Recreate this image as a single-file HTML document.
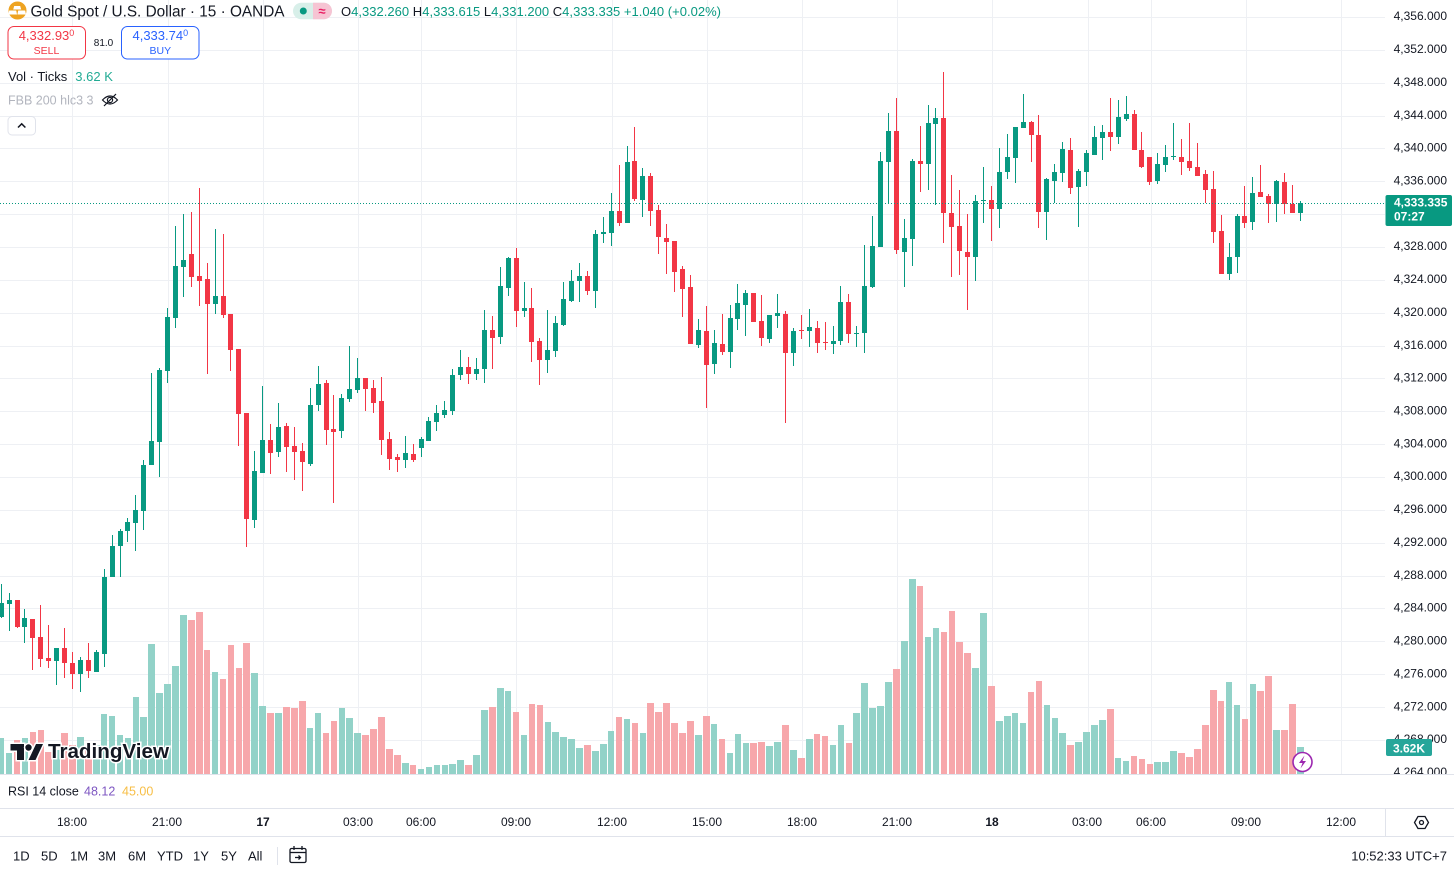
<!DOCTYPE html>
<html><head><meta charset="utf-8">
<style>
html,body{margin:0;padding:0;background:#fff;}
body{width:1454px;height:869px;overflow:hidden;position:relative;font-family:"Liberation Sans",Arial,sans-serif;}
svg{position:absolute;left:0;top:0;}
#vs,#cs{position:absolute;left:-2.77px;top:0;height:775px;display:flex;}
#vs i,#cs i{display:block;position:relative;flex:0 0 7.931px;height:775px;}
.u{--c:#089981;--vc:#92d2c8;}
.d{--c:#f23645;--vc:#f7a7ab;}
#cs i::before{content:"";position:absolute;left:3.47px;width:1px;top:calc(var(--h) * 1px);height:calc((var(--l) - var(--h)) * 1px);background:var(--c);}
#cs i::after{content:"";position:absolute;left:1.47px;width:5px;top:calc(var(--t) * 1px);height:max(1px, calc((var(--b) - var(--t)) * 1px));background:var(--c);}
#vs i::after{content:"";position:absolute;left:0.67px;width:6.6px;top:calc(var(--v) * 1px);bottom:1px;background:var(--vc);}
</style></head><body>

<svg width="1454" height="869" style="z-index:0">
<g stroke="#eef0f4" stroke-width="1" shape-rendering="crispEdges">
<line x1="0" x2="1385" y1="17.5" y2="17.5"/><line x1="0" x2="1385" y1="50.5" y2="50.5"/><line x1="0" x2="1385" y1="83.5" y2="83.5"/><line x1="0" x2="1385" y1="116.5" y2="116.5"/><line x1="0" x2="1385" y1="148.5" y2="148.5"/><line x1="0" x2="1385" y1="181.5" y2="181.5"/><line x1="0" x2="1385" y1="214.5" y2="214.5"/><line x1="0" x2="1385" y1="247.5" y2="247.5"/><line x1="0" x2="1385" y1="280.5" y2="280.5"/><line x1="0" x2="1385" y1="313.5" y2="313.5"/><line x1="0" x2="1385" y1="346.5" y2="346.5"/><line x1="0" x2="1385" y1="378.5" y2="378.5"/><line x1="0" x2="1385" y1="411.5" y2="411.5"/><line x1="0" x2="1385" y1="444.5" y2="444.5"/><line x1="0" x2="1385" y1="477.5" y2="477.5"/><line x1="0" x2="1385" y1="510.5" y2="510.5"/><line x1="0" x2="1385" y1="543.5" y2="543.5"/><line x1="0" x2="1385" y1="576.5" y2="576.5"/><line x1="0" x2="1385" y1="608.5" y2="608.5"/><line x1="0" x2="1385" y1="641.5" y2="641.5"/><line x1="0" x2="1385" y1="674.5" y2="674.5"/><line x1="0" x2="1385" y1="707.5" y2="707.5"/><line x1="0" x2="1385" y1="740.5" y2="740.5"/>
<line y1="0" y2="774" x1="72.5" x2="72.5"/><line y1="0" y2="774" x1="168.5" x2="168.5"/><line y1="0" y2="774" x1="263.5" x2="263.5"/><line y1="0" y2="774" x1="358.5" x2="358.5"/><line y1="0" y2="774" x1="421.5" x2="421.5"/><line y1="0" y2="774" x1="516.5" x2="516.5"/><line y1="0" y2="774" x1="612.5" x2="612.5"/><line y1="0" y2="774" x1="707.5" x2="707.5"/><line y1="0" y2="774" x1="802.5" x2="802.5"/><line y1="0" y2="774" x1="897.5" x2="897.5"/><line y1="0" y2="774" x1="992.5" x2="992.5"/><line y1="0" y2="774" x1="1088.5" x2="1088.5"/><line y1="0" y2="774" x1="1151.5" x2="1151.5"/><line y1="0" y2="774" x1="1246.5" x2="1246.5"/><line y1="0" y2="774" x1="1341.5" x2="1341.5"/>
</g>
</svg>

<div id="vs" style="z-index:1">
<i class="u" style="--v:738"></i><i class="u" style="--v:753"></i><i class="d" style="--v:740"></i><i class="u" style="--v:738"></i><i class="d" style="--v:732"></i><i class="d" style="--v:730"></i><i class="d" style="--v:752"></i><i class="u" style="--v:750"></i><i class="d" style="--v:733"></i><i class="d" style="--v:745"></i>
<i class="u" style="--v:737"></i><i class="d" style="--v:748"></i><i class="u" style="--v:745"></i><i class="u" style="--v:714"></i><i class="u" style="--v:716"></i><i class="u" style="--v:735"></i><i class="u" style="--v:738"></i><i class="u" style="--v:697"></i><i class="u" style="--v:717"></i><i class="u" style="--v:644"></i>
<i class="u" style="--v:693"></i><i class="u" style="--v:684"></i><i class="u" style="--v:666"></i><i class="u" style="--v:615"></i><i class="d" style="--v:620"></i><i class="d" style="--v:612"></i><i class="d" style="--v:650"></i><i class="u" style="--v:672"></i><i class="d" style="--v:679"></i><i class="d" style="--v:645"></i>
<i class="d" style="--v:668"></i><i class="d" style="--v:643"></i><i class="u" style="--v:673"></i><i class="u" style="--v:706"></i><i class="d" style="--v:713"></i><i class="u" style="--v:713"></i><i class="d" style="--v:707"></i><i class="d" style="--v:708"></i><i class="d" style="--v:701"></i><i class="u" style="--v:728"></i>
<i class="u" style="--v:713"></i><i class="d" style="--v:733"></i><i class="d" style="--v:721"></i><i class="u" style="--v:708"></i><i class="u" style="--v:718"></i><i class="u" style="--v:733"></i><i class="d" style="--v:735"></i><i class="d" style="--v:729"></i><i class="d" style="--v:717"></i><i class="d" style="--v:749"></i>
<i class="d" style="--v:755"></i><i class="u" style="--v:763"></i><i class="d" style="--v:765"></i><i class="u" style="--v:769"></i><i class="u" style="--v:767"></i><i class="u" style="--v:765"></i><i class="u" style="--v:765"></i><i class="u" style="--v:764"></i><i class="u" style="--v:760"></i><i class="d" style="--v:765"></i>
<i class="u" style="--v:755"></i><i class="u" style="--v:710"></i><i class="d" style="--v:707"></i><i class="u" style="--v:688"></i><i class="u" style="--v:691"></i><i class="d" style="--v:712"></i><i class="u" style="--v:735"></i><i class="d" style="--v:704"></i><i class="d" style="--v:705"></i><i class="u" style="--v:722"></i>
<i class="u" style="--v:732"></i><i class="u" style="--v:737"></i><i class="u" style="--v:739"></i><i class="u" style="--v:748"></i><i class="d" style="--v:745"></i><i class="u" style="--v:751"></i><i class="u" style="--v:744"></i><i class="u" style="--v:731"></i><i class="d" style="--v:717"></i><i class="u" style="--v:719"></i>
<i class="d" style="--v:723"></i><i class="u" style="--v:733"></i><i class="d" style="--v:703"></i><i class="d" style="--v:712"></i><i class="d" style="--v:703"></i><i class="d" style="--v:723"></i><i class="d" style="--v:733"></i><i class="d" style="--v:721"></i><i class="u" style="--v:735"></i><i class="d" style="--v:716"></i>
<i class="u" style="--v:724"></i><i class="d" style="--v:739"></i><i class="u" style="--v:753"></i><i class="u" style="--v:734"></i><i class="u" style="--v:743"></i><i class="d" style="--v:743"></i><i class="d" style="--v:742"></i><i class="u" style="--v:746"></i><i class="u" style="--v:742"></i><i class="d" style="--v:725"></i>
<i class="u" style="--v:750"></i><i class="d" style="--v:758"></i><i class="u" style="--v:739"></i><i class="d" style="--v:734"></i><i class="d" style="--v:736"></i><i class="u" style="--v:745"></i><i class="u" style="--v:725"></i><i class="d" style="--v:743"></i><i class="u" style="--v:713"></i><i class="u" style="--v:683"></i>
<i class="u" style="--v:708"></i><i class="u" style="--v:706"></i><i class="u" style="--v:682"></i><i class="d" style="--v:669"></i><i class="u" style="--v:641"></i><i class="u" style="--v:579"></i><i class="d" style="--v:586"></i><i class="u" style="--v:637"></i><i class="u" style="--v:628"></i><i class="d" style="--v:632"></i>
<i class="d" style="--v:611"></i><i class="d" style="--v:642"></i><i class="d" style="--v:653"></i><i class="u" style="--v:668"></i><i class="u" style="--v:613"></i><i class="d" style="--v:686"></i><i class="u" style="--v:721"></i><i class="u" style="--v:716"></i><i class="u" style="--v:713"></i><i class="u" style="--v:723"></i>
<i class="d" style="--v:692"></i><i class="d" style="--v:681"></i><i class="u" style="--v:705"></i><i class="u" style="--v:718"></i><i class="u" style="--v:733"></i><i class="d" style="--v:745"></i><i class="u" style="--v:742"></i><i class="u" style="--v:732"></i><i class="u" style="--v:725"></i><i class="u" style="--v:720"></i>
<i class="d" style="--v:709"></i><i class="u" style="--v:758"></i><i class="u" style="--v:761"></i><i class="d" style="--v:756"></i><i class="d" style="--v:759"></i><i class="d" style="--v:764"></i><i class="u" style="--v:762"></i><i class="u" style="--v:762"></i><i class="u" style="--v:751"></i><i class="d" style="--v:753"></i>
<i class="d" style="--v:757"></i><i class="d" style="--v:749"></i><i class="d" style="--v:725"></i><i class="d" style="--v:690"></i><i class="d" style="--v:701"></i><i class="u" style="--v:682"></i><i class="u" style="--v:705"></i><i class="d" style="--v:719"></i><i class="u" style="--v:684"></i><i class="d" style="--v:691"></i>
<i class="d" style="--v:676"></i><i class="u" style="--v:730"></i><i class="d" style="--v:730"></i><i class="d" style="--v:704"></i><i class="u" style="--v:747"></i>
</div>

<div id="cs" style="z-index:1">
<i class="u" style="--t:603;--b:617;--h:584;--l:618"></i><i class="u" style="--t:600;--b:604;--h:593;--l:631"></i><i class="d" style="--t:600;--b:627;--h:600;--l:628"></i><i class="u" style="--t:618;--b:627;--h:609;--l:643"></i><i class="d" style="--t:619;--b:638;--h:619;--l:670"></i><i class="d" style="--t:637;--b:659;--h:605;--l:667"></i><i class="d" style="--t:658;--b:661;--h:625;--l:668"></i><i class="u" style="--t:648;--b:661;--h:648;--l:685"></i><i class="d" style="--t:648;--b:663;--h:628;--l:678"></i><i class="d" style="--t:663;--b:674;--h:652;--l:689"></i>
<i class="u" style="--t:660;--b:674;--h:657;--l:692"></i><i class="d" style="--t:660;--b:671;--h:643;--l:678"></i><i class="u" style="--t:652;--b:672;--h:650;--l:672"></i><i class="u" style="--t:577;--b:654;--h:569;--l:667"></i><i class="u" style="--t:546;--b:577;--h:535;--l:577"></i><i class="u" style="--t:531;--b:546;--h:529;--l:577"></i><i class="u" style="--t:522;--b:531;--h:518;--l:542"></i><i class="u" style="--t:510;--b:523;--h:495;--l:551"></i><i class="u" style="--t:465;--b:511;--h:460;--l:530"></i><i class="u" style="--t:441;--b:465;--h:373;--l:465"></i>
<i class="u" style="--t:370;--b:442;--h:368;--l:477"></i><i class="u" style="--t:317;--b:371;--h:308;--l:383"></i><i class="u" style="--t:266;--b:318;--h:226;--l:328"></i><i class="u" style="--t:260;--b:267;--h:214;--l:297"></i><i class="d" style="--t:254;--b:277;--h:212;--l:287"></i><i class="d" style="--t:276;--b:281;--h:188;--l:306"></i><i class="d" style="--t:279;--b:304;--h:263;--l:374"></i><i class="u" style="--t:296;--b:304;--h:229;--l:314"></i><i class="d" style="--t:296;--b:315;--h:234;--l:318"></i><i class="d" style="--t:314;--b:350;--h:314;--l:371"></i>
<i class="d" style="--t:349;--b:414;--h:349;--l:446"></i><i class="d" style="--t:413;--b:519;--h:413;--l:547"></i><i class="u" style="--t:471;--b:520;--h:451;--l:528"></i><i class="u" style="--t:440;--b:473;--h:386;--l:473"></i><i class="d" style="--t:440;--b:453;--h:424;--l:474"></i><i class="u" style="--t:427;--b:452;--h:403;--l:457"></i><i class="d" style="--t:426;--b:447;--h:423;--l:472"></i><i class="d" style="--t:446;--b:452;--h:427;--l:480"></i><i class="d" style="--t:451;--b:462;--h:443;--l:491"></i><i class="u" style="--t:405;--b:464;--h:388;--l:466"></i>
<i class="u" style="--t:384;--b:405;--h:366;--l:411"></i><i class="d" style="--t:383;--b:430;--h:380;--l:445"></i><i class="d" style="--t:429;--b:432;--h:395;--l:503"></i><i class="u" style="--t:398;--b:431;--h:394;--l:438"></i><i class="u" style="--t:389;--b:399;--h:346;--l:402"></i><i class="u" style="--t:378;--b:390;--h:358;--l:393"></i><i class="d" style="--t:378;--b:389;--h:378;--l:411"></i><i class="d" style="--t:388;--b:403;--h:380;--l:413"></i><i class="d" style="--t:401;--b:440;--h:377;--l:455"></i><i class="d" style="--t:439;--b:459;--h:432;--l:470"></i>
<i class="d" style="--t:457;--b:460;--h:454;--l:472"></i><i class="u" style="--t:453;--b:460;--h:436;--l:468"></i><i class="d" style="--t:454;--b:460;--h:444;--l:462"></i><i class="u" style="--t:439;--b:448;--h:437;--l:457"></i><i class="u" style="--t:421;--b:441;--h:417;--l:441"></i><i class="u" style="--t:413;--b:422;--h:405;--l:431"></i><i class="u" style="--t:410;--b:415;--h:401;--l:418"></i><i class="u" style="--t:375;--b:411;--h:369;--l:415"></i><i class="u" style="--t:367;--b:375;--h:350;--l:380"></i><i class="d" style="--t:367;--b:374;--h:357;--l:384"></i>
<i class="u" style="--t:369;--b:374;--h:358;--l:380"></i><i class="u" style="--t:330;--b:369;--h:310;--l:383"></i><i class="d" style="--t:330;--b:338;--h:316;--l:369"></i><i class="u" style="--t:286;--b:337;--h:267;--l:344"></i><i class="u" style="--t:258;--b:288;--h:257;--l:296"></i><i class="d" style="--t:258;--b:311;--h:248;--l:327"></i><i class="u" style="--t:308;--b:311;--h:282;--l:317"></i><i class="d" style="--t:308;--b:342;--h:288;--l:362"></i><i class="d" style="--t:341;--b:360;--h:338;--l:385"></i><i class="u" style="--t:350;--b:360;--h:310;--l:373"></i>
<i class="u" style="--t:323;--b:351;--h:316;--l:357"></i><i class="u" style="--t:299;--b:325;--h:282;--l:326"></i><i class="u" style="--t:281;--b:301;--h:270;--l:302"></i><i class="u" style="--t:276;--b:281;--h:263;--l:302"></i><i class="d" style="--t:276;--b:291;--h:271;--l:295"></i><i class="u" style="--t:234;--b:291;--h:230;--l:308"></i><i class="u" style="--t:232;--b:234;--h:217;--l:243"></i><i class="u" style="--t:211;--b:233;--h:193;--l:246"></i><i class="d" style="--t:211;--b:223;--h:165;--l:226"></i><i class="u" style="--t:162;--b:223;--h:146;--l:223"></i>
<i class="d" style="--t:161;--b:199;--h:127;--l:201"></i><i class="u" style="--t:176;--b:200;--h:168;--l:217"></i><i class="d" style="--t:176;--b:211;--h:173;--l:226"></i><i class="d" style="--t:210;--b:237;--h:205;--l:254"></i><i class="d" style="--t:238;--b:242;--h:224;--l:274"></i><i class="d" style="--t:241;--b:272;--h:241;--l:292"></i><i class="d" style="--t:269;--b:289;--h:266;--l:317"></i><i class="d" style="--t:287;--b:344;--h:275;--l:344"></i><i class="u" style="--t:330;--b:345;--h:319;--l:348"></i><i class="d" style="--t:331;--b:365;--h:306;--l:408"></i>
<i class="u" style="--t:343;--b:364;--h:330;--l:374"></i><i class="d" style="--t:344;--b:352;--h:314;--l:355"></i><i class="u" style="--t:318;--b:352;--h:305;--l:368"></i><i class="u" style="--t:303;--b:319;--h:284;--l:330"></i><i class="u" style="--t:293;--b:305;--h:290;--l:336"></i><i class="d" style="--t:293;--b:322;--h:293;--l:322"></i><i class="d" style="--t:321;--b:338;--h:295;--l:346"></i><i class="u" style="--t:315;--b:339;--h:315;--l:343"></i><i class="u" style="--t:313;--b:316;--h:294;--l:328"></i><i class="d" style="--t:314;--b:353;--h:311;--l:423"></i>
<i class="u" style="--t:331;--b:353;--h:328;--l:366"></i><i class="d" style="--t:330;--b:331;--h:315;--l:339"></i><i class="u" style="--t:327;--b:331;--h:309;--l:347"></i><i class="d" style="--t:328;--b:343;--h:321;--l:353"></i><i class="d" style="--t:342;--b:343;--h:322;--l:350"></i><i class="u" style="--t:341;--b:344;--h:326;--l:354"></i><i class="u" style="--t:302;--b:341;--h:286;--l:345"></i><i class="d" style="--t:302;--b:334;--h:294;--l:343"></i><i class="u" style="--t:333;--b:334;--h:326;--l:347"></i><i class="u" style="--t:286;--b:333;--h:245;--l:353"></i>
<i class="u" style="--t:246;--b:287;--h:216;--l:288"></i><i class="u" style="--t:161;--b:247;--h:152;--l:247"></i><i class="u" style="--t:131;--b:162;--h:113;--l:204"></i><i class="d" style="--t:131;--b:250;--h:98;--l:254"></i><i class="u" style="--t:238;--b:252;--h:219;--l:287"></i><i class="u" style="--t:161;--b:239;--h:159;--l:266"></i><i class="d" style="--t:161;--b:164;--h:126;--l:192"></i><i class="u" style="--t:123;--b:164;--h:105;--l:190"></i><i class="u" style="--t:118;--b:124;--h:108;--l:205"></i><i class="d" style="--t:118;--b:213;--h:72;--l:243"></i>
<i class="d" style="--t:213;--b:227;--h:175;--l:277"></i><i class="d" style="--t:226;--b:251;--h:190;--l:275"></i><i class="d" style="--t:252;--b:257;--h:214;--l:310"></i><i class="u" style="--t:201;--b:257;--h:195;--l:281"></i><i class="u" style="--t:200;--b:201;--h:167;--l:223"></i><i class="d" style="--t:200;--b:209;--h:186;--l:241"></i><i class="u" style="--t:172;--b:209;--h:148;--l:228"></i><i class="u" style="--t:157;--b:172;--h:134;--l:179"></i><i class="u" style="--t:127;--b:158;--h:127;--l:183"></i><i class="u" style="--t:122;--b:128;--h:94;--l:128"></i>
<i class="d" style="--t:122;--b:135;--h:121;--l:162"></i><i class="d" style="--t:135;--b:212;--h:115;--l:228"></i><i class="u" style="--t:179;--b:212;--h:178;--l:240"></i><i class="u" style="--t:172;--b:181;--h:164;--l:203"></i><i class="u" style="--t:149;--b:173;--h:142;--l:182"></i><i class="d" style="--t:150;--b:188;--h:138;--l:194"></i><i class="u" style="--t:171;--b:187;--h:169;--l:227"></i><i class="u" style="--t:153;--b:172;--h:150;--l:186"></i><i class="u" style="--t:137;--b:155;--h:126;--l:155"></i><i class="u" style="--t:132;--b:138;--h:125;--l:160"></i>
<i class="d" style="--t:132;--b:137;--h:98;--l:151"></i><i class="u" style="--t:117;--b:137;--h:100;--l:144"></i><i class="u" style="--t:114;--b:119;--h:96;--l:121"></i><i class="d" style="--t:114;--b:150;--h:110;--l:150"></i><i class="d" style="--t:150;--b:167;--h:132;--l:168"></i><i class="d" style="--t:157;--b:182;--h:157;--l:185"></i><i class="u" style="--t:164;--b:181;--h:153;--l:184"></i><i class="u" style="--t:157;--b:165;--h:145;--l:172"></i><i class="u" style="--t:156;--b:157;--h:123;--l:160"></i><i class="d" style="--t:157;--b:162;--h:139;--l:175"></i>
<i class="d" style="--t:161;--b:168;--h:123;--l:171"></i><i class="d" style="--t:167;--b:176;--h:143;--l:176"></i><i class="d" style="--t:174;--b:190;--h:170;--l:203"></i><i class="d" style="--t:189;--b:232;--h:171;--l:243"></i><i class="d" style="--t:231;--b:274;--h:215;--l:274"></i><i class="u" style="--t:257;--b:274;--h:243;--l:280"></i><i class="u" style="--t:216;--b:257;--h:214;--l:273"></i><i class="d" style="--t:216;--b:223;--h:186;--l:228"></i><i class="u" style="--t:193;--b:222;--h:177;--l:230"></i><i class="d" style="--t:192;--b:197;--h:165;--l:197"></i>
<i class="d" style="--t:196;--b:204;--h:194;--l:223"></i><i class="u" style="--t:181;--b:204;--h:180;--l:222"></i><i class="d" style="--t:182;--b:204;--h:173;--l:214"></i><i class="d" style="--t:204;--b:213;--h:185;--l:213"></i><i class="u" style="--t:203;--b:213;--h:201;--l:221"></i>
</div>

<svg width="1454" height="869" style="z-index:2" font-family="Liberation Sans, Arial, sans-serif">
<defs><clipPath id="pc"><rect x="1385" y="0" width="69" height="774"/></clipPath></defs>
<!-- current price dotted line -->
<line x1="0" x2="1385" y1="203.5" y2="203.5" stroke="#089981" stroke-width="1" stroke-dasharray="1 2" shape-rendering="crispEdges"/>

<!-- price axis labels -->
<g clip-path="url(#pc)" font-size="12" fill="#131722" text-anchor="end">
<text x="1447" y="20.2">4,356.000</text><text x="1447" y="53.1">4,352.000</text><text x="1447" y="85.9">4,348.000</text><text x="1447" y="118.8">4,344.000</text><text x="1447" y="151.6">4,340.000</text><text x="1447" y="184.5">4,336.000</text><text x="1447" y="217.4">4,332.000</text><text x="1447" y="250.2">4,328.000</text><text x="1447" y="283.1">4,324.000</text><text x="1447" y="315.9">4,320.000</text><text x="1447" y="348.8">4,316.000</text><text x="1447" y="381.7">4,312.000</text><text x="1447" y="414.5">4,308.000</text><text x="1447" y="447.4">4,304.000</text><text x="1447" y="480.2">4,300.000</text><text x="1447" y="513.1">4,296.000</text><text x="1447" y="546">4,292.000</text><text x="1447" y="578.8">4,288.000</text><text x="1447" y="611.7">4,284.000</text><text x="1447" y="644.5">4,280.000</text><text x="1447" y="677.4">4,276.000</text><text x="1447" y="710.3">4,272.000</text><text x="1447" y="743.1">4,268.000</text><text x="1447" y="776">4,264.000</text>
</g>
<!-- current price box -->
<rect x="1385.5" y="195" width="66.5" height="31" rx="2" fill="#089981"/>
<text x="1394" y="206.7" font-size="12" font-weight="bold" fill="#fff">4,333.335</text>
<text x="1394" y="220.7" font-size="12" font-weight="bold" fill="#fff">07:27</text>
<!-- volume box -->
<rect x="1386" y="739" width="46" height="17" rx="2" fill="#26a69a"/>
<text x="1409" y="752.3" font-size="12" font-weight="bold" fill="#fff" text-anchor="middle">3.62K</text>

<!-- lightning icon -->
<circle cx="1302.5" cy="762" r="9.5" fill="#fff" stroke="#9c27b0" stroke-width="1.6"/>
<path d="M1304.5 755.5 L1299 763 H1302.5 L1300.5 768.5 L1306 761 H1302.5 Z" fill="#9c27b0"/>

<!-- TradingView logo -->
<g stroke="#fff" stroke-width="3" paint-order="stroke" fill="#131722">
<path d="M10.5 744 H24 V760 H17 V750.5 H10.5 Z"/>
<circle cx="28.5" cy="747.5" r="3.2"/>
<path d="M36 744 H43 L35.5 760 H28.5 Z"/>
<text x="48" y="758" font-size="20" font-weight="bold" textLength="121" lengthAdjust="spacingAndGlyphs">TradingView</text>
</g>

<!-- header -->
<circle cx="17.5" cy="10.5" r="9" fill="#eea321"/>
<path d="M14.5 6 H20.5 L21.5 9.5 H13.5 Z M9.5 10.5 H16.5 L17.3 14.5 H8.7 Z M18.5 10.5 H25.5 L26.3 14.5 H17.7 Z" fill="#fff" transform="translate(-0.3,0) scale(1,1)"/>
<text x="30.5" y="16.7" font-size="15.4" fill="#131722" textLength="254" lengthAdjust="spacingAndGlyphs">Gold Spot / U.S. Dollar · 15 · OANDA</text>
<rect x="293" y="2.7" width="39" height="16.6" rx="8.3" fill="#d8efe9"/>
<path d="M313 2.7 H323.7 A8.3 8.3 0 0 1 323.7 19.3 H313 Z" fill="#f6c4d3"/>
<circle cx="303.3" cy="11" r="3.5" fill="#089981"/>
<text x="322" y="15.5" font-size="13" fill="#e91e63" text-anchor="middle" font-weight="bold">≈</text>
<text x="341" y="16" font-size="13" fill="#089981" textLength="380" lengthAdjust="spacing"><tspan fill="#131722">O</tspan>4,332.260 <tspan fill="#131722">H</tspan>4,333.615 <tspan fill="#131722">L</tspan>4,331.200 <tspan fill="#131722">C</tspan>4,333.335 +1.040 (+0.02%)</text>

<rect x="8" y="26.5" width="77.5" height="32.5" rx="6" fill="#fff" stroke="#f23645" stroke-width="1"/>
<text x="46.5" y="40" font-size="13" fill="#f23645" text-anchor="middle">4,332.93<tspan font-size="9" dy="-4">0</tspan></text>
<text x="46.5" y="54" font-size="10.5" fill="#f23645" text-anchor="middle">SELL</text>
<text x="103.5" y="46" font-size="10" fill="#131722" text-anchor="middle">81.0</text>
<rect x="121.5" y="26.5" width="77.5" height="32.5" rx="6" fill="#fff" stroke="#2962ff" stroke-width="1"/>
<text x="160.3" y="40" font-size="13" fill="#2962ff" text-anchor="middle">4,333.74<tspan font-size="9" dy="-4">0</tspan></text>
<text x="160.3" y="54" font-size="10.5" fill="#2962ff" text-anchor="middle">BUY</text>

<text x="8" y="81" font-size="13" fill="#131722">Vol · Ticks</text>
<text x="75.3" y="81" font-size="13" fill="#22ab94">3.62 K</text>
<text x="8" y="104.5" font-size="12.5" fill="#b2b5be">FBB 200 hlc3 3</text>
<g fill="none" stroke="#131722" stroke-width="1.2">
<path d="M102.5 100 Q110 92 117.5 100 Q110 108 102.5 100 Z"/>
<circle cx="110" cy="100" r="2.6"/>
<line x1="104" y1="106" x2="116" y2="94"/>
</g>
<rect x="8" y="116.5" width="27.5" height="18.5" rx="4" fill="#fff" stroke="#e0e3eb"/>
<polyline points="18,127.5 21.7,123.8 25.4,127.5" fill="none" stroke="#131722" stroke-width="1.5"/>

<!-- pane separators -->
<g stroke="#e0e3eb" stroke-width="1" shape-rendering="crispEdges">
<line x1="0" x2="1454" y1="774.5" y2="774.5"/>
<line x1="0" x2="1454" y1="808.5" y2="808.5"/>
<line x1="0" x2="1454" y1="836.5" y2="836.5"/>
<line x1="1385.5" x2="1385.5" y1="808" y2="836"/>
</g>

<!-- RSI legend -->
<text x="8" y="795.5" font-size="12.5" fill="#131722">RSI 14 close</text>
<text x="84" y="795.5" font-size="12.5" fill="#7e57c2">48.12</text>
<text x="122" y="795.5" font-size="12.5" fill="#f7be45">45.00</text>

<!-- time axis -->
<g font-size="12" fill="#131722" text-anchor="middle">
<text x="72" y="826">18:00</text><text x="167" y="826">21:00</text><text x="263" y="826" font-weight="bold">17</text><text x="358" y="826">03:00</text><text x="421" y="826">06:00</text><text x="516" y="826">09:00</text><text x="612" y="826">12:00</text><text x="707" y="826">15:00</text><text x="802" y="826">18:00</text><text x="897" y="826">21:00</text><text x="992" y="826" font-weight="bold">18</text><text x="1087" y="826">03:00</text><text x="1151" y="826">06:00</text><text x="1246" y="826">09:00</text><text x="1341" y="826">12:00</text>
</g>
<path d="M1418 816.5 H1425 L1428.5 822.5 L1425 828.5 H1418 L1414.5 822.5 Z" fill="none" stroke="#131722" stroke-width="1.3"/>
<circle cx="1421.5" cy="822.5" r="2" fill="none" stroke="#131722" stroke-width="1.3"/>

<!-- bottom toolbar -->
<g font-size="13" fill="#131722">
<text x="13" y="860.5">1D</text><text x="41" y="860.5">5D</text><text x="70" y="860.5">1M</text><text x="98" y="860.5">3M</text><text x="128" y="860.5">6M</text><text x="157" y="860.5">YTD</text><text x="193" y="860.5">1Y</text><text x="221" y="860.5">5Y</text><text x="248" y="860.5">All</text>
<text x="1447" y="860.5" text-anchor="end">10:52:33 UTC+7</text>
</g>
<line x1="277.5" x2="277.5" y1="847" y2="865" stroke="#e0e3eb"/>
<g fill="none" stroke="#131722" stroke-width="1.3">
<rect x="290" y="848.5" width="16" height="14" rx="1.5"/>
<line x1="290" x2="306" y1="852.5" y2="852.5"/>
<line x1="294" x2="294" y1="846" y2="850"/>
<line x1="302" x2="302" y1="846" y2="850"/>
<polyline points="295,857.5 300,857.5"/>
<polyline points="298.5,855.5 300.5,857.5 298.5,859.5"/>
</g>
</svg>
</body></html>
